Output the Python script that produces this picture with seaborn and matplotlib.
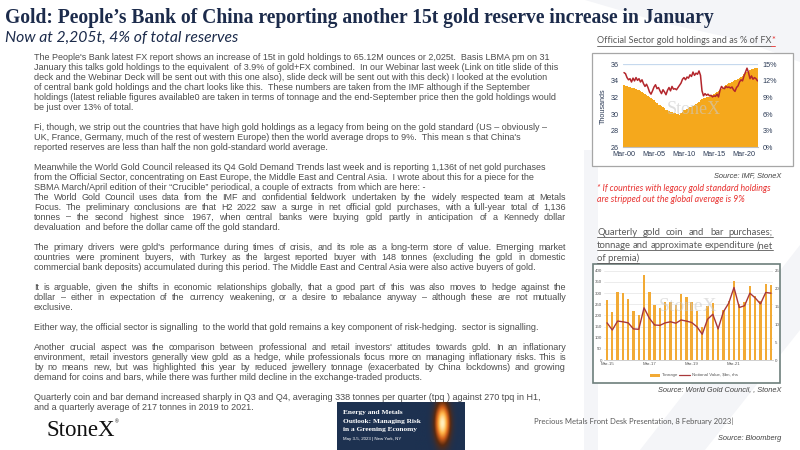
import numpy as np
import pandas as pd
import matplotlib
matplotlib.use("Agg")
import matplotlib.pyplot as plt
import seaborn as sns
from matplotlib.lines import Line2D
from matplotlib.patches import Rectangle, Polygon
from matplotlib.ticker import FuncFormatter

# ---------------- data ----------------
# Chart 1: official sector gold holdings (thousand tonnes) and % of FX, quarterly Mar-00 .. Jun-22
official_holdings_kt = [
    33.45, 33.40, 33.35, 33.30, 33.25, 33.20, 33.15, 33.10, 33.05, 32.95, 32.85, 32.75,
    32.65, 32.55, 32.45, 32.35, 32.20, 32.05, 31.95, 31.85, 31.65, 31.45, 31.30, 31.15,
    31.05, 30.95, 30.85, 30.70, 30.55, 30.45, 30.35, 30.25, 30.20, 30.15, 30.10, 30.05,
    30.00, 29.95, 30.10, 30.30, 30.45, 30.55, 30.60, 30.70, 30.80, 30.90, 31.00, 31.10,
    31.20, 31.35, 31.50, 31.65, 31.80, 31.90, 31.95, 32.00, 32.05, 32.10, 32.20, 32.30,
    32.40, 32.55, 32.65, 32.80, 32.90, 33.05, 33.20, 33.35, 33.50, 33.60, 33.70, 33.80,
    33.90, 34.00, 34.10, 34.15, 34.20, 34.30, 34.45, 34.60, 34.80, 35.00, 35.10, 35.20,
    35.30, 35.40, 35.45, 35.50, 35.50, 35.55,
]
gold_pct_of_fx = [
    13.5, 13.3, 12.6, 12.2, 12.4, 11.8, 12.5, 12.0, 12.6, 12.1, 12.4, 11.8,
    12.2, 11.5, 11.0, 11.4, 10.8, 10.0, 9.6, 10.2, 10.9, 11.3, 10.6, 10.8,
    10.2, 9.7, 10.4, 10.0, 9.5, 10.3, 10.8, 10.2, 11.0, 10.5, 10.6, 10.4,
    10.8, 11.2, 11.6, 12.3, 12.6, 12.2, 12.7, 12.5, 13.1, 12.8, 13.6, 13.0,
    13.4, 13.2, 13.8, 13.0, 10.2, 9.3, 9.7, 9.4, 9.6, 9.3, 9.4, 9.1,
    9.3, 9.2, 9.6, 9.1, 10.3, 11.0, 10.7, 10.6, 11.0, 10.8, 10.9, 10.7,
    10.9, 10.4, 10.1, 10.8, 11.1, 11.8, 12.2, 12.0, 12.9, 13.6, 14.3, 13.5,
    12.4, 12.9, 12.3, 12.6, 12.4, 12.0,
]
years1 = list(range(2000, 2023))
quarter_months = ["Mar", "Jun", "Sep", "Dec"]
quarters1 = [f"{m}-{y % 100:02d}" for y in years1 for m in quarter_months][:len(official_holdings_kt)]
ticks1_labels = ["Mar-00", "Mar-05", "Mar-10", "Mar-15", "Mar-20"]
ticks1_left = [26, 28, 30, 32, 34, 36]
ticks1_right = [0, 3, 6, 9, 12, 15]

# Chart 2: quarterly coin & bar purchases (tonnes) and notional value ($bn), Mar-15 .. Dec-22
coin_bar_tonnage = [268, 216, 306, 298, 272, 221, 200, 380, 304, 248, 233, 260, 261, 248, 297, 283,
                    258, 219, 150, 241, 255, 148, 222, 265, 355, 250, 262, 330, 285, 265, 342, 338]
notional_value_bn = [10.4, 8.4, 10.9, 10.7, 10.4, 8.7, 8.6, 14.6, 11.7, 9.8, 9.7, 10.4, 10.7, 10.3, 11.2, 10.9,
                     10.5, 9.3, 7.2, 11.4, 12.8, 8.7, 13.5, 15.9, 20.3, 14.7, 15.2, 18.7, 17.4, 15.7, 18.9, 18.7]
years2 = list(range(2015, 2023))
quarters2 = [f"{m}-{y % 100:02d}" for y in years2 for m in quarter_months]
ticks2_labels = ["Mar-15", "Mar-17", "Mar-19", "Mar-21"]
ticks2_left = [0, 50, 100, 150, 200, 250, 300, 350, 400]
ticks2_right = [0, 5, 10, 15, 20, 25]

# ---------------- style ----------------
sns.set_theme(style="white")
plt.rcParams["font.family"] = ["Liberation Sans", "DejaVu Sans"]

NAVY = "#1c2b4b"
BODY = "#4d4d4d"
GREY_T = "#595959"
RED = "#e8312f"
BAR1 = "#f5a81c"
LINE1 = "#b3262c"
BAR2 = "#f2aa35"
LINE2 = "#a8383b"

fig = plt.figure(figsize=(8, 4.5), dpi=100)
fig.patch.set_facecolor("white")
renderer = fig.canvas.get_renderer()


def fx(px):
    return px / 800.0


def fy(py):
    return 1 - py / 450.0


def add_ax(l, t, r, b):
    return fig.add_axes([fx(l), fy(b), (r - l) / 800.0, (b - t) / 450.0])


def measure(s, **kw):
    t = fig.text(0, 0, s, **kw)
    w = t.get_window_extent(renderer).width
    t.remove()
    return w


def put(x, y, s, justify=None, **kw):
    """Place a line of text centred on pixel row y; justified lines are laid out word by word on a
    common baseline."""
    kw.setdefault("ha", "left")
    if justify is None:
        kw.setdefault("va", "center")
        return fig.text(fx(x), fy(y), s, **kw)
    kw = dict(kw)
    kw.pop("va", None)
    words = s.split()
    size = kw.get("fontsize", 10)
    while True:
        kw["fontsize"] = size
        widths = [measure(w, **kw) for w in words]
        gap = (justify - sum(widths)) / max(len(words) - 1, 1)
        if gap >= 1.4 or size < 4:
            break
        size -= 0.1
    base = y + 0.36 * size * 100 / 72
    cx = x
    for w, wd in zip(words, widths):
        fig.text(fx(cx), fy(base), w, va="baseline", **kw)
        cx += wd + gap
    return None


def put_base(x, y, s, **kw):
    size = kw.get("fontsize", 10)
    kw.setdefault("ha", "left")
    return fig.text(fx(x), fy(y + 0.36 * size * 100 / 72), s, va="baseline", **kw)


def underline(x0, x1, y, color, lw=0.6):
    fig.add_artist(Line2D([fx(x0), fx(x1)], [fy(y), fy(y)], transform=fig.transFigure,
                          color=color, lw=lw, zorder=3))


def frame(l, t, r, b, ec, lw, fc="white", z=-1):
    fig.add_artist(Rectangle((fx(l), fy(b)), (r - l) / 800, (b - t) / 450, transform=fig.transFigure,
                             facecolor=fc, edgecolor=ec, lw=lw, zorder=z))


# ---------------- background watermark ----------------
for pts in [
    [(585, 0), (800, 0), (800, 62), (740, 40), (660, 22)],
    [(640, 450), (705, 450), (800, 330), (800, 245)],
    [(584, 150), (598, 150), (598, 450), (584, 450)],
]:
    fig.add_artist(Polygon([(fx(a), fy(b)) for a, b in pts], closed=True, transform=fig.transFigure,
                           facecolor="#f4f5f8", edgecolor="none", zorder=-2))

# ---------------- titles ----------------
put(5, 18, "Gold: People\u2019s Bank of China reporting another 15t gold reserve increase in January",
    fontsize=14.1, fontweight="bold", color=NAVY, family=["Liberation Serif", "DejaVu Serif"])
put(5, 38, "Now at 2,205t, 4% of total reserves", fontsize=11.3, style="italic", color=NAVY,
    family=["Lato", "DejaVu Sans"])

# ---------------- body text ----------------
BX = 34
RIGHT = 566
LH = 9.9
PGAP = 20.3
body_kw = dict(fontsize=6.5, color=BODY, family=["Liberation Sans", "DejaVu Sans"])
paragraphs = [
    [
        ("The People's Bank latest FX report shows an increase of 15t in gold holdings to 65.12M ounces or 2,025t.  Basis LBMA pm on 31", False),
        ("January this talks gold holdings to the equivalent  of 3.9% of gold+FX combined.  In our Webinar last week (Link on title slide of this", False),
        ("deck and the Webinar Deck will be sent out with this one also), slide deck will be sent out with this deck) I looked at the evolution", False),
        ("of central bank gold holdings and the chart looks like this.  These numbers are taken from the IMF although if the September", False),
        ("holdings (latest reliable figures available0 are taken in terms of tonnage and the end-September price then the gold holdings would", False),
        ("be just over 13% of total.", False),
    ],
    [
        ("Fi, though, we strip out the countries that have high gold holdings as a legacy from being on the gold standard (US \u2013 obviously \u2013", False),
        ("UK, France, Germany, much of the rest of western Europe) then the world average drops to 9%.  This mean s that China's", False),
        ("reported reserves are less than half the non gold-standard world average.", False),
    ],
    [
        ("Meanwhile the World Gold Council released its Q4 Gold Demand Trends last week and is reporting 1,136t of net gold purchases", False),
        ("from the Official Sector, concentrating on East Europe, the Middle East and Central Asia.  I wrote about this for a piece for the", False),
        ("SBMA March/April edition of their \u201cCrucible\u201d periodical, a couple of extracts  from which are here: -", False),
        ("The World Gold Council uses data from the IMF and confidential fieldwork undertaken by the widely respected team at Metals", True),
        ("Focus. The preliminary conclusions are that H2 2022 saw a surge in net official gold purchases, with a full-year total of 1,136", True),
        ("tonnes \u2013 the second highest since 1967, when central banks were buying gold partly in anticipation of a Kennedy dollar", True),
        ("devaluation  and before the dollar came off the gold standard.", False),
    ],
    [
        ("The primary drivers were gold's performance during times of crisis, and its role as a long-term store of value. Emerging market", True),
        ("countries were prominent buyers, with Turkey as the largest reported buyer with 148 tonnes (excluding the gold in domestic", True),
        ("commercial bank deposits) accumulated during this period. The Middle East and Central Asia were also active buyers of gold.", False),
    ],
    [
        ("It is arguable, given the shifts in economic relationships globally, that a good part of this was also moves to hedge against the", True),
        ("dollar \u2013 either in expectation of the currency weakening, or a desire to rebalance anyway \u2013 although these are not mutually", True),
        ("exclusive.", False),
    ],
    [
        ("Either way, the official sector is signalling  to the world that gold remains a key component of risk-hedging.  sector is signalling.", False),
    ],
    [
        ("Another crucial aspect was the comparison between professional and retail investors' attitudes towards gold. In an inflationary", True),
        ("environment, retail investors generally view gold as a hedge, while professionals focus more on managing inflationary risks. This is", True),
        ("by no means new, but was highlighted this year by reduced jewellery tonnage (exacerbated by China lockdowns) and growing", True),
        ("demand for coins and bars, while there was further mild decline in the exchange-traded products.", False),
    ],
    [
        ("Quarterly coin and bar demand increased sharply in Q3 and Q4, averaging 338 tonnes per quarter (tpq ) against 270 tpq in H1,", False),
        ("and a quarterly average of 217 tonnes in 2019 to 2021.", False),
    ],
]
y = 57
for p, lines in enumerate(paragraphs):
    if p > 0:
        y += PGAP - LH
    for s, just in lines:
        if just:
            put(BX, y, s, justify=(RIGHT - BX), **body_kw)
        else:
            put_base(BX, y, s, **body_kw)
        y += LH
last_body_y = y - LH

# ---------------- chart 1 ----------------
title_kw = dict(fontsize=6.6, color=GREY_T, family=["Lato", "DejaVu Sans"])
t1 = "Official Sector gold holdings and as % of FX"
w1 = measure(t1, **title_kw)
wstar = measure("*", **title_kw)
put_base(597, 40, t1, **title_kw)
put_base(597 + w1, 40, "*", fontsize=6.6, color=RED, family=["Lato", "DejaVu Sans"])
underline(597, 597 + w1, 45.5, GREY_T)
underline(597 + w1, 597 + w1 + wstar, 45.5, RED)

frame(592, 53, 793, 166, "#a6a6a6", 0.9)

ax1 = add_ax(623.25, 64.3, 758.25, 147.3)
ax1.set_facecolor("none")
df1 = pd.DataFrame({"quarter": quarters1, "holdings": official_holdings_kt, "pct": gold_pct_of_fx,
                    "pos": np.arange(len(quarters1))})
sns.barplot(data=df1, x="quarter", y="holdings", color=BAR1, saturation=1, width=0.78,
            linewidth=0, ax=ax1, zorder=2)
ax1.set_ylim(26, 36)
ax1.set_yticks(ticks1_left)
ax1.set_xticks([quarters1.index(l) for l in ticks1_labels])
ax1.set_xticklabels(ticks1_labels)
ax1.axhline(36, color="#c6d9ee", lw=0.9, zorder=1)
ax1.set_xlabel("")
ax1.set_ylabel("Thousands", fontsize=5.2, color="#2b3a55", labelpad=3)
ax1.tick_params(axis="both", length=0, labelsize=5.2, labelcolor="#2b3a55", pad=3)
for s in ["top", "right", "left"]:
    ax1.spines[s].set_visible(False)
ax1.spines["bottom"].set_color("#bfbfbf")
ax1.spines["bottom"].set_linewidth(0.8)
ax1.text(0.52, 0.45, "StoneX", transform=ax1.transAxes, ha="center", va="center", fontsize=13,
         color="#c9c9c9", alpha=0.6, family=["Liberation Serif"], zorder=3)

ax1b = ax1.twinx()
sns.lineplot(data=df1, x="pos", y="pct", color=LINE1, lw=1.1, ax=ax1b, zorder=4)
ax1b.set_ylim(0, 15)
ax1b.set_yticks(ticks1_right)
ax1b.yaxis.set_major_formatter(FuncFormatter(lambda v, p: f"{v:.0f}%"))
ax1b.set_ylabel("")
ax1b.tick_params(axis="y", length=0, labelsize=5.2, labelcolor="#2b3a55", pad=3)
for s in ax1b.spines.values():
    s.set_visible(False)
ax1.set_xlim(-0.5, len(quarters1) - 0.5)

put(781, 176, "Source: IMF, StoneX", ha="right", fontsize=5.3, style="italic", color="#404040")
put(597, 189, "* If countries with legacy gold standard holdings", fontsize=6.3, style="italic", color=RED,
    family=["Lato", "DejaVu Sans"])
put(597, 200, "are stripped out the global average is 9%", fontsize=6.3, style="italic", color=RED,
    family=["Lato", "DejaVu Sans"])

# ---------------- chart 2 ----------------
t2_kw = dict(fontsize=6.8, color=GREY_T, family=["Lato", "DejaVu Sans"])
t2_lines = [("Quarterly gold coin and bar purchases;", True),
            ("tonnage and approximate expenditure (net", True),
            ("of premia)", False)]
for i, (s, just) in enumerate(t2_lines):
    yy = 232 + i * 12.8
    if just:
        put(597, yy, s, justify=176, **t2_kw)
        w = 176
    else:
        put_base(597, yy, s, **t2_kw)
        w = measure(s, **t2_kw)
    underline(597, 597 + w, yy + 5.3, GREY_T)

frame(593, 264, 780, 383, "#6d7f7c", 1.2)

ax2 = add_ax(604, 270.7, 772.5, 360)
ax2.set_facecolor("none")
df2 = pd.DataFrame({"quarter": quarters2, "tonnage": coin_bar_tonnage, "value": notional_value_bn,
                    "pos": np.arange(len(quarters2))})
sns.barplot(data=df2, x="quarter", y="tonnage", color=BAR2, saturation=1, width=0.45,
            linewidth=0, ax=ax2, zorder=2)
ax2.set_ylim(0, 400)
ax2.set_yticks(ticks2_left)
ax2.set_xticks([quarters2.index(l) for l in ticks2_labels])
ax2.set_xticklabels(ticks2_labels)
ax2.set_xlabel("")
ax2.set_ylabel("")
ax2.yaxis.grid(True, color="#e4e4e4", lw=0.5)
ax2.set_axisbelow(True)
ax2.tick_params(axis="both", length=0, labelsize=3.2, labelcolor="#595959", pad=1.5)
for s in ["top", "right", "left"]:
    ax2.spines[s].set_visible(False)
ax2.spines["bottom"].set_color("#c8c8c8")
ax2.spines["bottom"].set_linewidth(0.6)
ax2.text(0.5, 0.6, "StoneX", transform=ax2.transAxes, ha="center", va="center", fontsize=14,
         color="#c9c9c9", alpha=0.55, family=["Liberation Serif"], zorder=3)

ax2b = ax2.twinx()
sns.lineplot(data=df2, x="pos", y="value", color=LINE2, lw=1.0, ax=ax2b, zorder=4)
ax2b.set_ylim(0, 25)
ax2b.set_yticks(ticks2_right)
ax2b.set_ylabel("")
ax2b.tick_params(axis="y", length=0, labelsize=3.2, labelcolor="#595959", pad=1.5)
for s in ax2b.spines.values():
    s.set_visible(False)
ax2.set_xlim(-0.57, 31.28)

# legend
fig.add_artist(Rectangle((fx(650), fy(376.5)), 10 / 800, 3 / 450, transform=fig.transFigure,
                         facecolor=BAR2, edgecolor="none", zorder=3))
put(662, 375, "Tonnage", fontsize=3.2, color="#595959")
fig.add_artist(Line2D([fx(679), fx(690)], [fy(375), fy(375)], transform=fig.transFigure, color=LINE2,
                      lw=0.9, zorder=3))
put(692, 375, "Notional Value, $bn, rhs", fontsize=3.2, color="#595959")

put(781, 390, "Source: World Gold Council, , StoneX", ha="right", fontsize=5.3, style="italic", color="#404040")

# ---------------- footer ----------------
put(534, 421, "Precious Metals Front Desk Presentation, 8 February 2023|", fontsize=5.5, color="#595959",
    family=["Lato", "DejaVu Sans"])
put(781, 438, "Source: Bloomberg", ha="right", fontsize=5.3, style="italic", color="#404040")

logo_kw = dict(fontsize=16.5, color="#111111", family=["Liberation Serif", "DejaVu Serif"])
wlogo = measure("StoneX", **logo_kw)
put(46, 430, "StoneX", **logo_kw)
put(46 + wlogo + 0.5, 422, "\u00ae", fontsize=3.5, color="#111111")

# event banner
BT = last_body_y - 5
frame(337, BT, 465, 450, "none", 0, fc="#1d3150")
glow = fig.add_axes([fx(415), fy(450), (465 - 415) / 800, (450 - BT) / 450])
gx = np.linspace(-1, 1, 60)
gy = np.linspace(-1, 1, 120)
GX, GY = np.meshgrid(gx, gy)
glow_img = np.exp(-((GX - 0.1) ** 2) / 0.08 - ((GY + 0.1) ** 2) / 0.6)
glow.imshow(glow_img, cmap=sns.blend_palette(["#1d3150", "#5a2a10", "#d2601a", "#ffb347", "#fff0c0"], as_cmap=True),
            aspect="auto", interpolation="bilinear")
glow.axis("off")
ban_kw = dict(fontsize=5.3, color="white", fontweight="bold", family=["Liberation Serif", "DejaVu Serif"])
put(343, BT + 11, "Energy and Metals", **ban_kw)
put(343, BT + 19.5, "Outlook: Managing Risk", **ban_kw)
put(343, BT + 28, "in a Greening Economy", **ban_kw)
put(343, BT + 37, "May 3-5, 2023 | New York, NY", fontsize=3.2, color="white")

fig.savefig("out.png", dpi=100, facecolor="white")
